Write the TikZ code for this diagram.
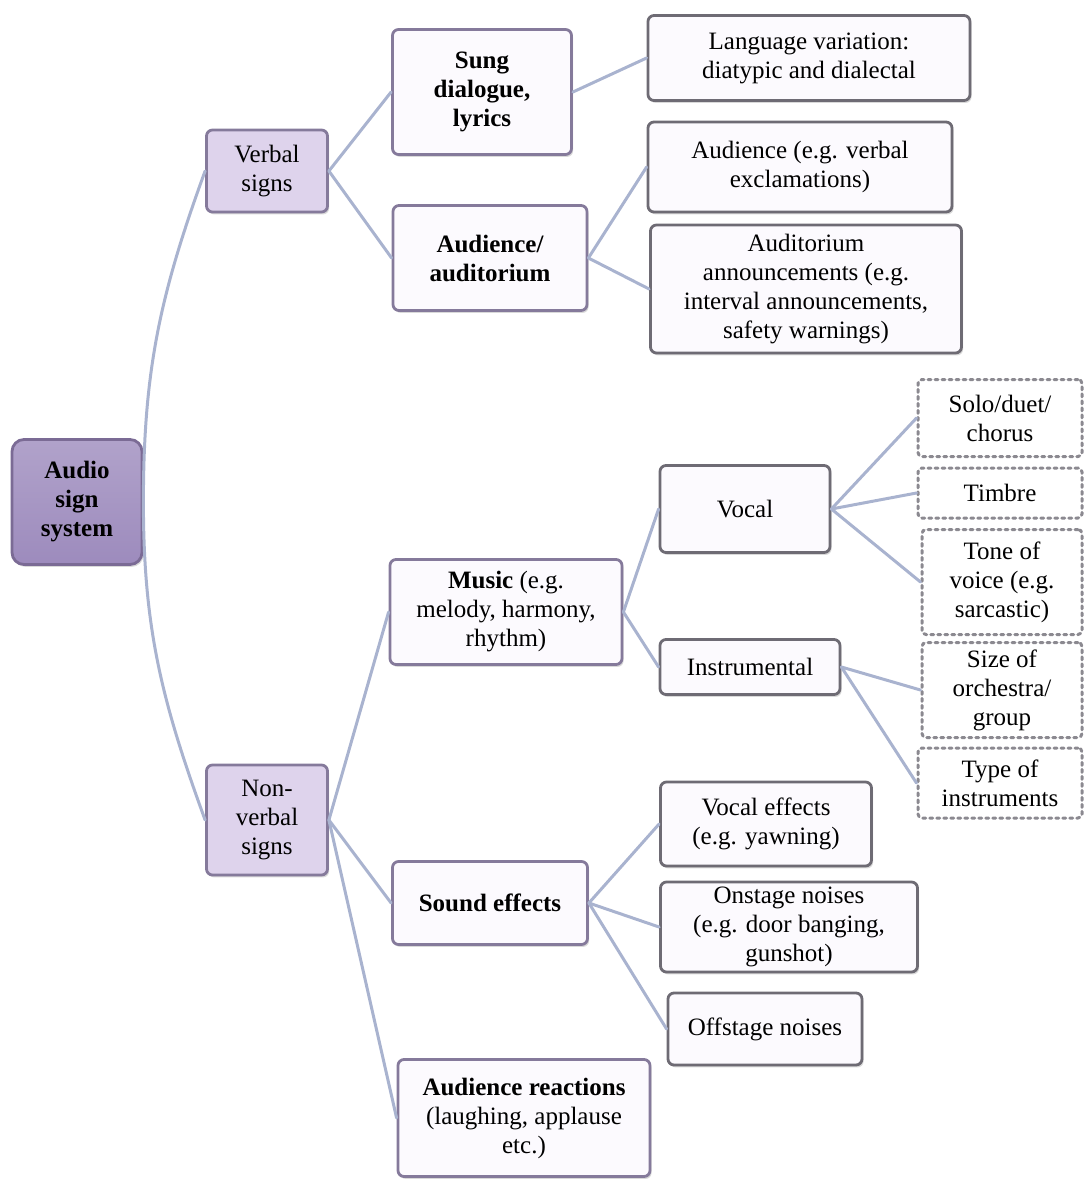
\documentclass[tikz,border=0pt]{standalone}
\usepackage{fontspec}
\setmainfont{Liberation Serif}
\usetikzlibrary{shadows}
\definecolor{linkcol}{HTML}{A9B3CF}
\definecolor{rootfill}{HTML}{9D8BBD}
\definecolor{rootline}{HTML}{7B6B95}
\definecolor{signfill}{HTML}{DED3EC}
\definecolor{boxline}{HTML}{857A9B}
\definecolor{leafline}{HTML}{6E6B74}
\definecolor{boxfill}{HTML}{FCFAFE}
\tikzset{
  box/.style={draw=boxline, line width=1.4pt, rounded corners=3pt, fill=boxfill,
    align=center, inner sep=2pt,
    drop shadow={opacity=0.3, shadow xshift=0.8pt, shadow yshift=-1.2pt}},
  rootbox/.style={box, draw=rootline, top color=rootfill!80!white, bottom color=rootfill,
    rounded corners=6pt, font=\fontsize{12.5}{14.5}\selectfont\bfseries},
  signbox/.style={box, fill=signfill},
  leafbox/.style={box, draw=leafline},
  dotbox/.style={draw=leafline!80, dotted, line width=1.5pt, fill=white, align=center,
    inner sep=2pt, rounded corners=2pt},
  link/.style={draw=linkcol, line width=1.5pt}
}
\begin{document}
\begin{tikzpicture}[x=0.5pt, y=-0.5pt, font=\fontsize{12.5}{14.5}\selectfont, line join=round, line cap=round]
\useasboundingbox (0,0) rectangle (1086,1180);
% level 1 and 2
\node[rootbox, minimum width=65pt, minimum height=62.5pt] (audio) at (77,502) {Audio\\sign\\system};
\node[signbox, minimum width=60.5pt, minimum height=41pt] (verbal) at (267,171) {Verbal\\signs};
\node[signbox, minimum width=60.5pt, minimum height=55pt] (nonverbal) at (267,820) {Non-\\verbal\\signs};
% verbal branch
\node[box, minimum width=89.5pt, minimum height=62.5pt, font=\fontsize{12.5}{14.5}\selectfont\bfseries] (sung) at (482,92) {Sung\\dialogue,\\lyrics};
\node[box, minimum width=97pt, minimum height=52.5pt, font=\fontsize{12.5}{14.5}\selectfont\bfseries] (audaud) at (490,258) {Audience/\\auditorium};
\node[leafbox, minimum width=161pt, minimum height=42.5pt] (langvar) at (809,58) {Language variation:\\diatypic and dialectal};
\node[leafbox, minimum width=152pt, minimum height=45pt] (audex) at (800,167) {Audience (e.g. verbal\\exclamations)};
\node[leafbox, minimum width=155.5pt, minimum height=64pt] (audann) at (806,289) {Auditorium\\announcements (e.g.\\interval announcements,\\safety warnings)};
% non-verbal branch
\node[box, minimum width=116pt, minimum height=52.5pt] (music) at (506,612) {\textbf{Music} (e.g.\\melody, harmony,\\rhythm)};
\node[leafbox, minimum width=85pt, minimum height=43.5pt] (vocal) at (745,509) {Vocal};
\node[leafbox, minimum width=90pt, minimum height=27.5pt] (instr) at (750,667) {Instrumental};
\node[dotbox, minimum width=82pt, minimum height=38.5pt] (solo) at (1000,418) {Solo/duet/\\chorus};
\node[dotbox, minimum width=82pt, minimum height=25pt] (timbre) at (1000,493) {Timbre};
\node[dotbox, minimum width=80pt, minimum height=52.5pt] (tone) at (1002,582) {Tone of\\voice (e.g.\\sarcastic)};
\node[dotbox, minimum width=80pt, minimum height=47.5pt] (orch) at (1002,690) {Size of\\orchestra/\\group};
\node[dotbox, minimum width=82pt, minimum height=35pt] (instype) at (1000,783) {Type of\\instruments};
\node[box, minimum width=97.5pt, minimum height=41.5pt, font=\fontsize{12.5}{14.5}\selectfont\bfseries] (sound) at (490,903) {Sound effects};
\node[leafbox, minimum width=105.5pt, minimum height=42pt] (voceff) at (766,824) {Vocal effects\\(e.g. yawning)};
\node[leafbox, minimum width=128.5pt, minimum height=45pt] (onstage) at (789,927) {Onstage noises\\(e.g. door banging,\\gunshot)};
\node[leafbox, minimum width=97pt, minimum height=36pt] (offstage) at (765,1029) {Offstage noises};
\node[box, minimum width=126pt, minimum height=58.5pt] (reactions) at (524,1118) {\textbf{Audience reactions}\\(laughing, applause\\etc.)};
% connectors
\draw[link] (audio.east) to[out=90, in=250] (verbal.west);
\draw[link] (audio.east) to[out=-90, in=110] (nonverbal.west);
\foreach \kid in {sung,audaud} \draw[link] (verbal.east) -- (\kid.west);
\draw[link] (sung.east) -- (langvar.west);
\foreach \kid in {audex,audann} \draw[link] (audaud.east) -- (\kid.west);
\foreach \kid in {music,sound,reactions} \draw[link] (nonverbal.east) -- (\kid.west);
\foreach \kid in {vocal,instr} \draw[link] (music.east) -- (\kid.west);
\foreach \kid in {solo,timbre,tone} \draw[link] (vocal.east) -- (\kid.west);
\foreach \kid in {orch,instype} \draw[link] (instr.east) -- (\kid.west);
\foreach \kid in {voceff,onstage,offstage} \draw[link] (sound.east) -- (\kid.west);
\end{tikzpicture}
\end{document}
